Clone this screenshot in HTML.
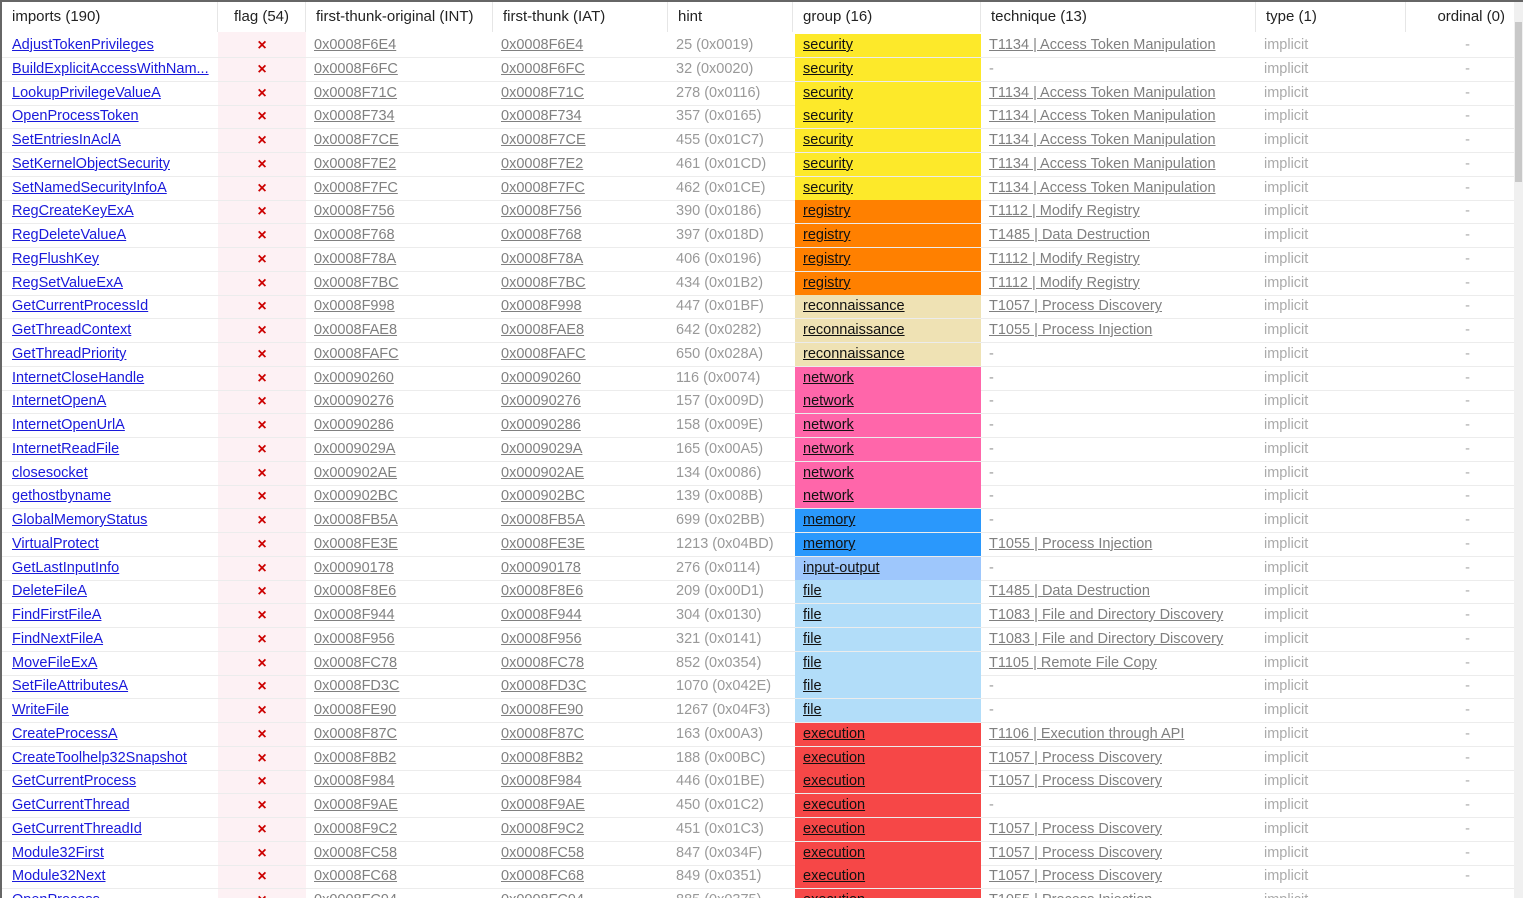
<!DOCTYPE html>
<html><head><meta charset="utf-8"><style>
body{margin:0;width:1523px;height:898px;overflow:hidden;background:#fff;font-family:"Liberation Sans",sans-serif;font-size:14.5px;}
#wrap{position:absolute;left:0;top:0;width:1523px;height:898px;border-left:2px solid #666;border-top:2px solid #666;box-sizing:border-box;overflow:hidden;}
.hd{position:absolute;top:0;height:30px;line-height:30px;color:#222;border-right:1px solid #e6e6e6;box-sizing:border-box;padding:0 10px;font-size:15px;}
.c{position:absolute;height:23px;line-height:23px;white-space:nowrap;overflow:hidden;box-sizing:border-box;padding-left:8px;}
.lnk{color:#1a1adb;text-decoration:underline;}
.g{color:#999;}
.gu{color:#808080;text-decoration:underline;}
.row{position:absolute;left:0;width:1512px;height:1px;background:#ececec;}
</style></head><body>
<div id="wrap">
<div class="hd" style="left:0;width:216px">imports (190)</div>
<div class="hd" style="left:216px;width:88px;text-align:center">flag (54)</div>
<div class="hd" style="left:304px;width:187px">first-thunk-original (INT)</div>
<div class="hd" style="left:491px;width:175px">first-thunk (IAT)</div>
<div class="hd" style="left:666px;width:125px">hint</div>
<div class="hd" style="left:791px;width:188px">group (16)</div>
<div class="hd" style="left:979px;width:275px">technique (13)</div>
<div class="hd" style="left:1254px;width:150px">type (1)</div>
<div class="hd" style="left:1404px;width:110px;text-align:right">ordinal (0)</div>
<div style="position:absolute;left:216px;top:30px;width:88px;height:870px;background:#fdf1f4"></div>
<div id="rows"></div>
<div style="position:absolute;left:1512px;top:0;width:9px;height:898px;background:#f0f0f0"><div style="position:absolute;left:1px;top:20px;width:7px;height:160px;background:#c8c8c8"></div></div>
</div>
<script>
const names=["AdjustTokenPrivileges","BuildExplicitAccessWithNam...","LookupPrivilegeValueA","OpenProcessToken","SetEntriesInAclA","SetKernelObjectSecurity","SetNamedSecurityInfoA","RegCreateKeyExA","RegDeleteValueA","RegFlushKey","RegSetValueExA","GetCurrentProcessId","GetThreadContext","GetThreadPriority","InternetCloseHandle","InternetOpenA","InternetOpenUrlA","InternetReadFile","closesocket","gethostbyname","GlobalMemoryStatus","VirtualProtect","GetLastInputInfo","DeleteFileA","FindFirstFileA","FindNextFileA","MoveFileExA","SetFileAttributesA","WriteFile","CreateProcessA","CreateToolhelp32Snapshot","GetCurrentProcess","GetCurrentThread","GetCurrentThreadId","Module32First","Module32Next","OpenProcess"];
const thunks=["0x0008F6E4","0x0008F6FC","0x0008F71C","0x0008F734","0x0008F7CE","0x0008F7E2","0x0008F7FC","0x0008F756","0x0008F768","0x0008F78A","0x0008F7BC","0x0008F998","0x0008FAE8","0x0008FAFC","0x00090260","0x00090276","0x00090286","0x0009029A","0x000902AE","0x000902BC","0x0008FB5A","0x0008FE3E","0x00090178","0x0008F8E6","0x0008F944","0x0008F956","0x0008FC78","0x0008FD3C","0x0008FE90","0x0008F87C","0x0008F8B2","0x0008F984","0x0008F9AE","0x0008F9C2","0x0008FC58","0x0008FC68","0x0008FC94"];
const hints=["25 (0x0019)","32 (0x0020)","278 (0x0116)","357 (0x0165)","455 (0x01C7)","461 (0x01CD)","462 (0x01CE)","390 (0x0186)","397 (0x018D)","406 (0x0196)","434 (0x01B2)","447 (0x01BF)","642 (0x0282)","650 (0x028A)","116 (0x0074)","157 (0x009D)","158 (0x009E)","165 (0x00A5)","134 (0x0086)","139 (0x008B)","699 (0x02BB)","1213 (0x04BD)","276 (0x0114)","209 (0x00D1)","304 (0x0130)","321 (0x0141)","852 (0x0354)","1070 (0x042E)","1267 (0x04F3)","163 (0x00A3)","188 (0x00BC)","446 (0x01BE)","450 (0x01C2)","451 (0x01C3)","847 (0x034F)","849 (0x0351)","885 (0x0375)"];
const groups=["security","security","security","security","security","security","security","registry","registry","registry","registry","reconnaissance","reconnaissance","reconnaissance","network","network","network","network","network","network","memory","memory","input-output","file","file","file","file","file","file","execution","execution","execution","execution","execution","execution","execution","execution"];
const techs=["T1134 | Access Token Manipulation","-","T1134 | Access Token Manipulation","T1134 | Access Token Manipulation","T1134 | Access Token Manipulation","T1134 | Access Token Manipulation","T1134 | Access Token Manipulation","T1112 | Modify Registry","T1485 | Data Destruction","T1112 | Modify Registry","T1112 | Modify Registry","T1057 | Process Discovery","T1055 | Process Injection","-","-","-","-","-","-","-","-","T1055 | Process Injection","-","T1485 | Data Destruction","T1083 | File and Directory Discovery","T1083 | File and Directory Discovery","T1105 | Remote File Copy","-","-","T1106 | Execution through API","T1057 | Process Discovery","T1057 | Process Discovery","-","T1057 | Process Discovery","T1057 | Process Discovery","T1057 | Process Discovery","T1055 | Process Injection"];
const gcol={security:"#fde92a",registry:"#ff8000",reconnaissance:"#efe2b4",network:"#ff66aa",memory:"#2a98fc",'input-output':"#9ec7fc",file:"#b2ddf9",execution:"#f64747"};
const R=document.getElementById('rows');
function cell(x,y,w,txt,cls,name,inter,extra){const d=document.createElement('div');d.className='c '+(cls||'');d.style.left=x+'px';d.style.top=y+'px';d.style.width=w+'px';if(extra)d.style.cssText+=extra;d.textContent=txt;


R.appendChild(d);return d;}
names.forEach((n,i)=>{const y=32+i*23.75;
const l=document.createElement('div');l.className='row';l.style.top=(y+23)+'px';


R.appendChild(l);
cell(2,y,214,n,'lnk','import-name','true');
cell(216,y,88,'×','','flag-mark','false','text-align:center;padding:0;color:#c00;font-weight:bold;font-size:16px');
cell(304,y,187,thunks[i],'gu','int-value','true');
cell(491,y,175,thunks[i],'gu','iat-value','true');
cell(666,y,125,hints[i],'g','hint-value','false');
cell(793,y,186,groups[i],'','group-cell','true','background:'+gcol[groups[i]]+';color:#111;text-decoration:underline');
cell(979,y,275,techs[i],techs[i]=='-'?'g':'gu','technique-value',techs[i]=='-'?'false':'true');
cell(1254,y,150,'implicit','g','type-value','false','color:#aaa');
cell(1404,y,108,'-','g','ordinal-value','false','text-align:right;padding-right:44px;color:#aaa');
});
</script>
</body></html>
